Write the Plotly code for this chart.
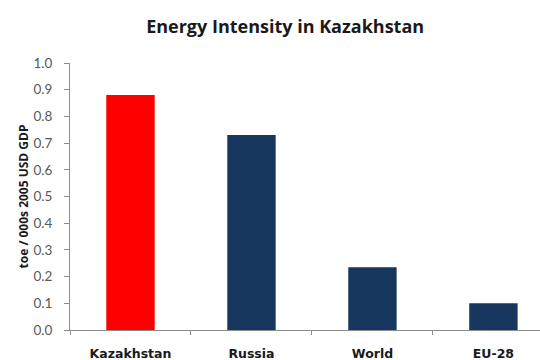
import plotly.graph_objects as go

# Energy intensity, toe per thousand 2005 USD of GDP
regions = ["Kazakhstan", "Russia", "World", "EU-28"]
intensity = [0.88, 0.73, 0.235, 0.10]
bar_colors = ["#FF0000", "#17375E", "#17375E", "#17375E"]
y_ticks = [0.0, 0.1, 0.2, 0.3, 0.4, 0.5, 0.6, 0.7, 0.8, 0.9, 1.0]

fig = go.Figure(
    go.Bar(
        x=regions,
        y=intensity,
        marker=dict(color=bar_colors, line=dict(width=0)),
        width=0.4,
    )
)

fig.update_layout(
    width=540,
    height=360,
    margin=dict(l=70, r=0, t=63, b=30),
    paper_bgcolor="white",
    plot_bgcolor="white",
    showlegend=False,
    font=dict(family="Open Sans, Lato, sans-serif", color="#404040"),
    title=dict(
        text="<b>Energy Intensity in Kazakhstan</b>",
        x=0.528,
        xanchor="center",
        y=0.925,
        yanchor="middle",
        font=dict(size=18, color="#1a1a1a", family="Open Sans, sans-serif"),
    ),
)

fig.update_xaxes(
    range=[-0.5, 3.385],
    showline=True,
    linecolor="#8c8c8c",
    linewidth=1,
    ticks="outside",
    tickson="boundaries",
    ticklen=4,
    tickcolor="#8c8c8c",
    showgrid=False,
    tickfont=dict(size=12.5, color="#1a1a1a", family="DejaVu Sans, sans-serif"),
    tickprefix="<b>",
    ticksuffix="</b>",
    ticklabelstandoff=12,
)

fig.update_yaxes(
    range=[0, 1.0],
    tickvals=y_ticks,
    ticktext=[f"{v:.1f}" for v in y_ticks],
    showline=True,
    linecolor="#8c8c8c",
    linewidth=1,
    ticks="outside",
    ticklen=5,
    tickcolor="#8c8c8c",
    showgrid=False,
    zeroline=False,
    ticklabelstandoff=9,
    tickfont=dict(size=13.5, color="#595959", family="Lato, sans-serif"),
    title=dict(
        text="<b>toe / 000s 2005 USD GDP</b>",
        font=dict(size=12, color="#1a1a1a", family="Open Sans, sans-serif"),
        standoff=2,
    ),
)

fig.write_html("out.html")
